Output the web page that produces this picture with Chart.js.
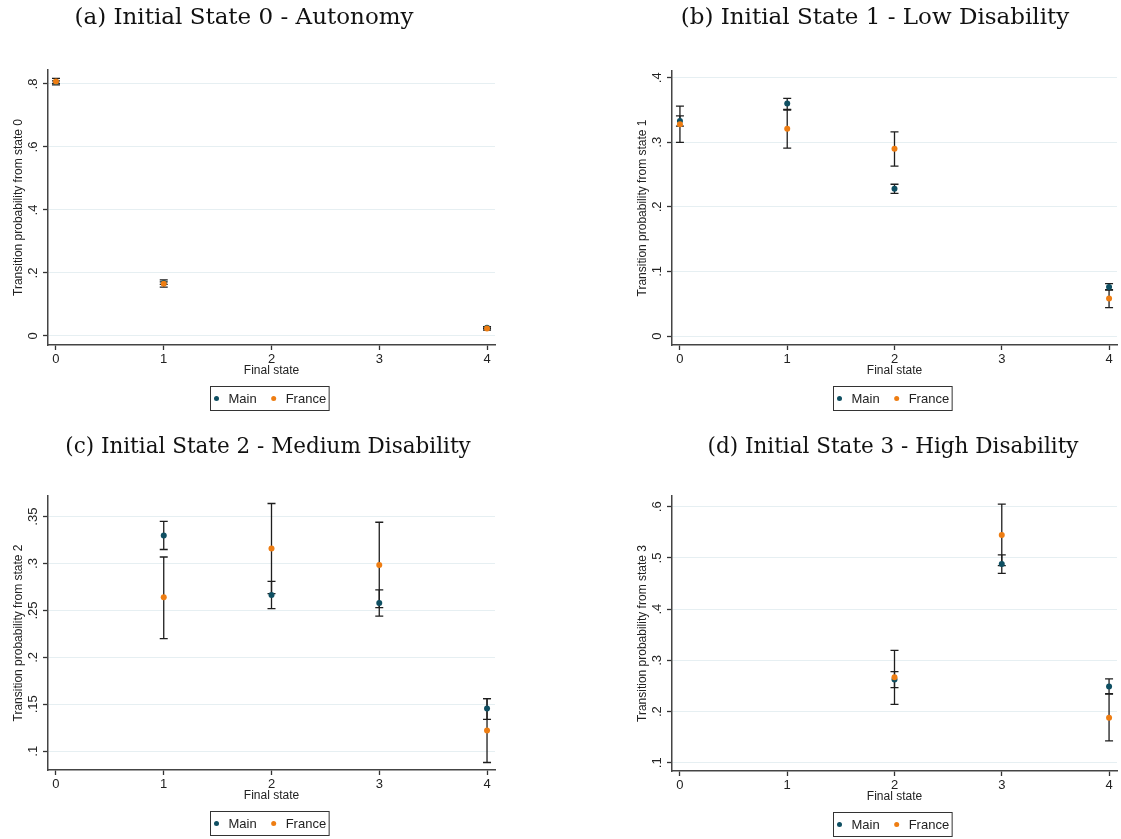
<!DOCTYPE html>
<html>
<head>
<meta charset="utf-8">
<script src="https://cdn.jsdelivr.net/npm/chart.js@4.4.0/dist/chart.umd.min.js"></script>
<style>
  body { margin: 0; background: #fff; }
  #wrap { position: relative; width: 1121px; height: 839px; overflow: hidden; }
  .panel { position: absolute; }
  .cap { position: absolute; width: 500px; text-align: center; font-family: "DejaVu Serif", serif; font-size: 23px; color: #111; white-space: nowrap; }
  .cap.low { font-size: 21.5px; }
</style>
</head>
<body>
<div id="wrap">
  <canvas class="panel" id="cA" width="560" height="420" style="left:0;top:0"></canvas>
  <canvas class="panel" id="cB" width="561" height="420" style="left:560px;top:0"></canvas>
  <canvas class="panel" id="cC" width="560" height="419" style="left:0;top:420px"></canvas>
  <canvas class="panel" id="cD" width="561" height="419" style="left:560px;top:420px"></canvas>
  <div class="cap" style="left:-6px;top:3px">(a) Initial State 0 - Autonomy</div>
  <div class="cap" style="left:625px;top:3px">(b) Initial State 1 - Low Disability</div>
  <div class="cap low" style="left:18px;top:433px">(c) Initial State 2 - Medium Disability</div>
  <div class="cap low" style="left:643px;top:433px">(d) Initial State 3 - High Disability</div>
</div>
<script>
// final states on the x axis
const states = [0, 1, 2, 3, 4];
const stateLabels = ['0', '1', '2', '3', '4'];

// (a) from state 0
const xA = [0, 1, 4];
const mainA = [0.806, 0.168, 0.026];
const mainALo = [0.802, 0.164, 0.024];
const mainAHi = [0.810, 0.172, 0.029];
const franceA = [0.808, 0.166, 0.024];
const franceALo = [0.797, 0.155, 0.019];
const franceAHi = [0.818, 0.178, 0.030];
const yTicksA = [0, 0.2, 0.4, 0.6, 0.8];
const yLabelsA = ['0', '.2', '.4', '.6', '.8'];

// (b) from state 1
const xB = [0, 1, 2, 4];
const mainB = [0.333, 0.360, 0.228, 0.076];
const mainBLo = [0.325, 0.351, 0.221, 0.071];
const mainBHi = [0.341, 0.368, 0.235, 0.081];
const franceB = [0.328, 0.321, 0.290, 0.058];
const franceBLo = [0.300, 0.291, 0.263, 0.044];
const franceBHi = [0.356, 0.350, 0.316, 0.072];
const yTicksB = [0, 0.1, 0.2, 0.3, 0.4];
const yLabelsB = ['0', '.1', '.2', '.3', '.4'];

// (c) from state 2
const xC = [1, 2, 3, 4];
const mainC = [0.330, 0.2665, 0.258, 0.1455];
const mainCLo = [0.315, 0.252, 0.244, 0.134];
const mainCHi = [0.345, 0.281, 0.272, 0.156];
const franceC = [0.264, 0.316, 0.2985, 0.122];
const franceCLo = [0.220, 0.268, 0.253, 0.088];
const franceCHi = [0.307, 0.364, 0.344, 0.156];
const yTicksC = [0.1, 0.15, 0.2, 0.25, 0.3, 0.35];
const yLabelsC = ['.1', '.15', '.2', '.25', '.3', '.35'];

// (d) from state 3
const xD = [2, 3, 4];
const mainD = [0.2625, 0.488, 0.249];
const mainDLo = [0.247, 0.470, 0.235];
const mainDHi = [0.278, 0.506, 0.264];
const franceD = [0.267, 0.545, 0.188];
const franceDLo = [0.214, 0.485, 0.143];
const franceDHi = [0.3195, 0.605, 0.234];
const yTicksD = [0.1, 0.2, 0.3, 0.4, 0.5, 0.6];
const yLabelsD = ['.1', '.2', '.3', '.4', '.5', '.6'];

const MAIN_COL = '#0f4f62';
const FRANCE_COL = '#ee7d12';
const INK = '#222';
const SANS = '"Liberation Sans", Arial, sans-serif';

// confidence intervals drawn under the points
const errorBars = {
  id: 'errorBars',
  beforeDatasetsDraw(chart) {
    const { ctx, scales: { x, y } } = chart;
    ctx.save();
    ctx.strokeStyle = '#1e1e1e';
    ctx.lineWidth = 1.3;
    chart.data.datasets.forEach(ds => {
      ds.data.forEach((p, i) => {
        const px = x.getPixelForValue(p.x);
        const yl = y.getPixelForValue(ds.lo[i]);
        const yh = y.getPixelForValue(ds.hi[i]);
        ctx.beginPath();
        ctx.moveTo(px, yl); ctx.lineTo(px, yh);
        ctx.moveTo(px - 4, yl); ctx.lineTo(px + 4, yl);
        ctx.moveTo(px - 4, yh); ctx.lineTo(px + 4, yh);
        ctx.stroke();
      });
    });
    ctx.restore();
  }
};

// stata style vertical y tick labels
const yTickText = {
  id: 'yTickText',
  afterDraw(chart, args, opts) {
    const { ctx, chartArea } = chart;
    const y = chart.scales.y;
    ctx.save();
    ctx.font = '13px ' + SANS;
    ctx.fillStyle = INK;
    ctx.textAlign = 'center';
    ctx.textBaseline = 'middle';
    y.ticks.forEach(t => {
      const i = opts.ticks.indexOf(t.value);
      if (i < 0) return;
      ctx.save();
      ctx.translate(chartArea.left - 15, y.getPixelForValue(t.value));
      ctx.rotate(-Math.PI / 2);
      ctx.fillText(opts.labels[i], 0, 0);
      ctx.restore();
    });
    ctx.restore();
  }
};

// boxed legend under the x axis
const boxLegend = {
  id: 'boxLegend',
  afterDraw(chart, args, opts) {
    const { ctx, chartArea } = chart;
    const items = chart.data.datasets;
    ctx.save();
    ctx.font = '13px ' + SANS;
    const widths = items.map(d => ctx.measureText(d.label).width);
    const w = 6 + widths.reduce((s, v) => s + 12 + v, 0) + 17 * (items.length - 1) + 3;
    const h = 24;
    const left = Math.round((chartArea.left + chartArea.right) / 2 - w / 2 - 2) + 0.5;
    const top = Math.round(chartArea.bottom + opts.offset) + 0.5;
    ctx.strokeStyle = '#333';
    ctx.lineWidth = 1;
    ctx.strokeRect(left, top, w, h);
    let cx = left + 6;
    items.forEach((d, i) => {
      ctx.fillStyle = d.backgroundColor;
      ctx.beginPath();
      ctx.arc(cx, top + h / 2, 2.5, 0, Math.PI * 2);
      ctx.fill();
      ctx.fillStyle = INK;
      ctx.textBaseline = 'middle';
      ctx.fillText(d.label, cx + 12, top + h / 2 + 0.5);
      cx += 12 + widths[i] + 17;
    });
    ctx.restore();
  }
};

function pts(xs, ys) {
  return xs.map((x, i) => ({ x: x, y: ys[i] }));
}

function makePanel(id, p) {
  new Chart(document.getElementById(id), {
    type: 'scatter',
    data: {
      datasets: [
        { label: 'Main', data: pts(p.x, p.main), lo: p.mainLo, hi: p.mainHi,
          backgroundColor: MAIN_COL, pointRadius: 3, borderWidth: 0, order: 1 },
        { label: 'France', data: pts(p.x, p.france), lo: p.franceLo, hi: p.franceHi,
          backgroundColor: FRANCE_COL, pointRadius: 3, borderWidth: 0, order: 0 }
      ]
    },
    options: {
      responsive: false,
      animation: false,
      layout: { padding: p.pad },
      plugins: {
        legend: { display: false },
        tooltip: { enabled: false },
        yTickText: { ticks: p.yTicks, labels: p.yLabels },
        boxLegend: { offset: 41 }
      },
      scales: {
        x: {
          type: 'linear',
          min: -0.074, max: 4.074,
          afterBuildTicks: s => { s.ticks = states.map(v => ({ value: v })); },
          afterFit: s => { s.height = 33; },
          ticks: {
            callback: (v, i) => stateLabels[states.indexOf(v)],
            font: { size: 13, family: SANS }, color: INK, padding: 2, maxRotation: 0
          },
          grid: { drawOnChartArea: false, drawTicks: true, tickLength: 5, tickColor: '#333', tickWidth: 1.3 },
          border: { color: '#444', width: 1.5 },
          title: { display: true, text: 'Final state', color: INK,
                   font: { size: 12, family: SANS }, padding: { top: 0, bottom: 0 } }
        },
        y: {
          min: p.yMin, max: p.yMax,
          afterBuildTicks: s => { s.ticks = p.yTicks.map(v => ({ value: v })); },
          afterFit: s => { s.width = 48; },
          ticks: { display: false },
          grid: { color: '#e6eff2', lineWidth: 1, tickLength: 5, tickColor: '#333', tickWidth: 1.3 },
          border: { color: '#444', width: 1.5 },
          title: { display: true, text: p.yTitle, color: INK,
                   font: { size: 12, family: SANS }, padding: { top: 11, bottom: 0 } }
        }
      }
    },
    plugins: [errorBars, yTickText, boxLegend]
  });
}

makePanel('cA', {
  x: xA, main: mainA, mainLo: mainALo, mainHi: mainAHi,
  france: franceA, franceLo: franceALo, franceHi: franceAHi,
  yMin: -0.0286, yMax: 0.8444, yTicks: yTicksA, yLabels: yLabelsA,
  yTitle: 'Transition probability from state 0',
  pad: { left: 0, right: 65, top: 70, bottom: 42 }
});
makePanel('cB', {
  x: xB, main: mainB, mainLo: mainBLo, mainHi: mainBHi,
  france: franceB, franceLo: franceBLo, franceHi: franceBHi,
  yMin: -0.0139, yMax: 0.4104, yTicks: yTicksB, yLabels: yLabelsB,
  yTitle: 'Transition probability from state 1',
  pad: { left: 64, right: 2, top: 71, bottom: 42 }
});
makePanel('cC', {
  x: xC, main: mainC, mainLo: mainCLo, mainHi: mainCHi,
  france: franceC, franceLo: franceCLo, franceHi: franceCHi,
  yMin: 0.080, yMax: 0.372, yTicks: yTicksC, yLabels: yLabelsC,
  yTitle: 'Transition probability from state 2',
  pad: { left: 0, right: 65, top: 76, bottom: 36 }
});
makePanel('cD', {
  x: xD, main: mainD, mainLo: mainDLo, mainHi: mainDHi,
  france: franceD, franceLo: franceDLo, franceHi: franceDHi,
  yMin: 0.084, yMax: 0.621, yTicks: yTicksD, yLabels: yLabelsD,
  yTitle: 'Transition probability from state 3',
  pad: { left: 64, right: 2, top: 76, bottom: 35 }
});
</script>
</body>
</html>
